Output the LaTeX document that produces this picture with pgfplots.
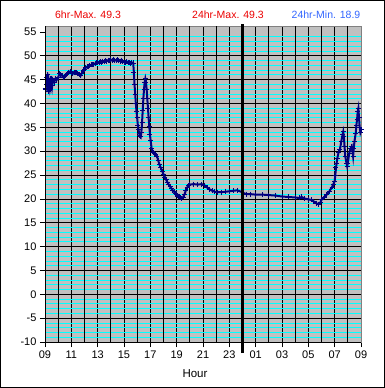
\documentclass[border=0pt]{standalone}
\usepackage{pgfplots}
\pgfplotsset{compat=1.18}
\usepackage{fontspec}
\setmainfont{Liberation Sans}
\definecolor{navyc}{RGB}{0,0,128}
\definecolor{bgc}{RGB}{192,192,192}
\definecolor{redc}{RGB}{235,0,0}
\definecolor{bluec}{RGB}{51,102,255}
\definecolor{cyanc}{RGB}{0,255,255}
\begin{document}
\begin{tikzpicture}[x=1pt,y=1pt]
\draw[black, line width=1pt] (0.5,0.5) rectangle (384.5,387.5);
\node[text=redc, font=\fontsize{10.5}{12}\selectfont] at (88,373) {6hr-Max. 49.3};
\node[text=redc, font=\fontsize{10.5}{12}\selectfont] at (228,373) {24hr-Max. 49.3};
\node[text=bluec, font=\fontsize{10.5}{12}\selectfont] at (326,373) {24hr-Min. 18.9};
\node[font=\fontsize{11.5}{13}\selectfont] at (195,14) {Hour};
\begin{axis}[at={(45pt,46pt)}, anchor=south west, scale only axis,
  width=316pt, height=316pt,
  xmin=0, xmax=24, ymin=-10, ymax=56.25,
  clip mode=individual,
  axis background/.style={fill=bgc},
  axis line style={draw=gray, line width=0.8pt},
  xtick={0,2,...,24},
  xticklabels={09,11,13,15,17,19,21,23,01,03,05,07,09},
  extra x ticks={1,3,...,23}, extra x tick labels={},
  extra x tick style={major tick length=0pt, xmajorgrids=true},
  ytick={-10,-5,...,50},
  extra y ticks={55}, extra y tick style={ymajorgrids=false},
  minor ytick={-9,-8,-7,-6,-4,-3,-2,-1,1,2,3,4,6,7,8,9,11,12,13,14,16,17,18,19,21,22,23,24,26,27,28,29,31,32,33,34,36,37,38,39,41,42,43,44,46,47,48,49,51,52,53,54},
  xtick pos=left, ytick pos=left, tick align=outside,
  major tick length=5pt, minor tick length=0pt,
  xmajorgrids, ymajorgrids, yminorgrids,
  major grid style={black, line width=0.8pt},
  minor grid style={cyanc, line width=0.8pt},
  tick style={black, line width=0.8pt},
  ticklabel style={font=\fontsize{11}{13}\selectfont},
  /pgf/number format/assume math mode=true,
]
\addplot[navyc, line width=2pt, mark=+, mark size=2.5pt, mark options={line width=0.9pt}] coordinates {
(0,43.2)(0.05,43)(0.1,45.5)(0.15,44)(0.2,46)(0.25,42.5)(0.3,44.5)(0.35,43.5)(0.4,45.2)(0.45,44)(0.5,45.3)(0.55,43.8)(0.6,45)(0.7,44.5)(0.8,45.2)(0.9,45)(1.0,45.5)(1.1,46.2)(1.2,46)(1.3,45.8)(1.4,45.5)(1.5,45.7)(1.6,46)(1.7,46.3)(1.8,46.6)(1.9,46.7)(2.0,46.5)(2.1,46.2)(2.2,46.6)(2.3,46.5)(2.4,46.5)(2.5,46.3)(2.6,46)(2.7,45.8)(2.8,46.4)(2.9,47)(3.0,47.2)(3.1,47.5)(3.2,47.7)(3.3,47.8)(3.4,48)(3.5,48.1)(3.6,48.1)(3.7,48.2)(3.8,48.4)(3.9,48.5)(4.0,48.6)(4.1,48.6)(4.2,48.8)(4.3,48.7)(4.4,48.9)(4.5,48.8)(4.6,49)(4.7,48.9)(4.8,49.1)(4.9,49)(5.0,49.2)(5.1,49)(5.2,49.3)(5.3,49.1)(5.4,49)(5.5,49.2)(5.6,49)(5.7,48.9)(5.8,49.1)(5.9,48.8)(6.0,48.7)(6.1,48.6)(6.2,48.8)(6.3,48.5)(6.4,48.6)(6.5,48.3)(6.6,48.6)
(6.7,48.5)(6.75,46.5)(6.8,44)(6.85,42)(6.9,40)(6.95,38.3)(7.0,37)(7.05,35.5)(7.1,34.5)(7.15,33.8)(7.2,33.3)(7.27,33)(7.32,34)(7.37,36)(7.42,38.5)(7.47,41)(7.52,43)(7.57,44.5)(7.62,45.2)(7.67,44.5)(7.72,43)(7.77,41)(7.82,39)(7.87,37)(7.92,35.2)(7.97,33.5)(8.02,32.3)(8.1,30.5)(8.2,29.8)(8.3,29.5)(8.4,29.3)(8.5,29)(8.6,28)(8.7,27.2)(8.8,26.5)(8.9,25.8)(9.0,25.2)(9.1,24.6)(9.2,24)(9.3,23.5)(9.4,23)(9.5,22.6)(9.6,22.2)(9.7,21.8)(9.8,21.5)(9.9,21.2)(10.0,20.9)(10.1,20.6)(10.2,20.4)(10.3,20.2)(10.4,20.1)(10.5,20.4)(10.6,21)(10.7,21.8)(10.8,22.4)(10.9,22.8)(11.0,23)(11.3,23.1)(11.6,23)(11.9,23.1)(12.1,22.9)(12.3,22.4)(12.5,22)(12.7,21.7)(12.9,21.5)(13.1,21.4)(13.4,21.4)(13.7,21.5)(14.0,21.6)(14.3,21.7)(14.6,21.8)(14.9,21.5)(15.1,21.2)(15.3,21.0)(15.6,21.0)(16,20.9)(16.5,20.9)(17,20.8)(17.5,20.7)(18,20.5)(18.5,20.4)(19,20.3)(19.3,20.2)(19.5,20.4)(19.7,20.1)(20.0,19.9)(20.2,19.8)(20.4,19.5)(20.6,19.1)(20.75,18.9)(20.9,19.2)(21.0,19.8)(21.2,20.4)(21.4,20.9)(21.6,21.6)(21.8,22.5)(21.9,23.1)(22.0,23.7)(22.05,25)(22.1,26.5)(22.15,27.5)(22.2,28.5)(22.3,29.8)(22.4,30.3)(22.5,32)(22.6,33.5)(22.65,34.1)(22.7,33)(22.75,31)(22.8,29)(22.9,27.5)(22.95,26.8)(23.0,27.5)(23.1,29.5)(23.2,30.5)(23.3,31)(23.35,30)(23.4,28.9)(23.45,30.5)(23.5,32)(23.6,33.8)(23.65,35.5)(23.7,36.6)(23.75,38.3)(23.8,39)(23.85,37)(23.9,35)(23.95,34)(24,34.5)
};
\draw[black, line width=0.8pt] (rel axis cs:0,1) -- (rel axis cs:0,0) -- (rel axis cs:1,0);
\draw[black, line width=2.4pt] ([yshift=-11pt]axis cs:15,-10) -- ([yshift=2pt]axis cs:15,56.25);
\end{axis}
\end{tikzpicture}
\end{document}
